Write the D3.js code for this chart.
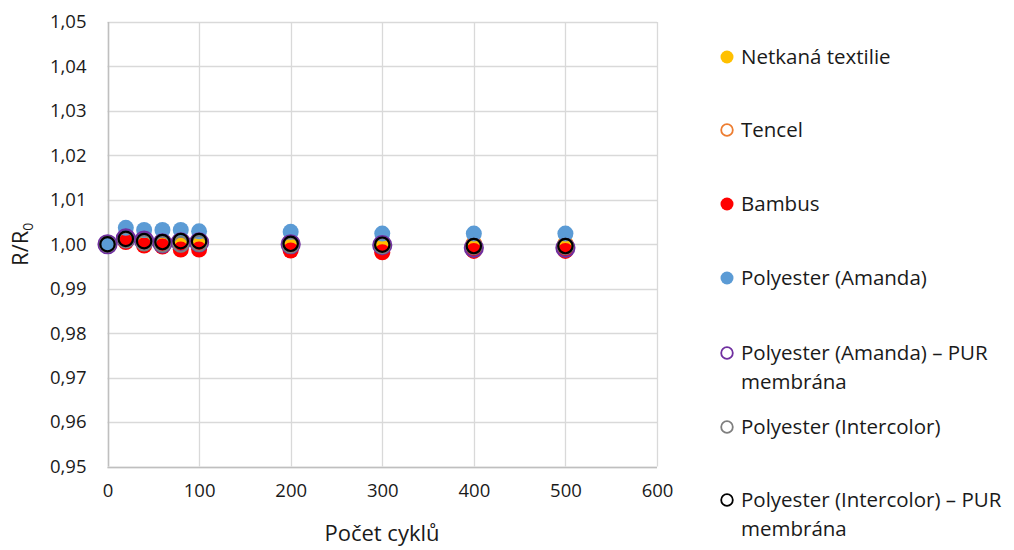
<!DOCTYPE html>
<html>
<head>
<meta charset="utf-8">
<script src="https://cdn.jsdelivr.net/npm/d3@7/dist/d3.min.js"></script>
<style>
  html, body { margin: 0; padding: 0; background: #fff; }
  svg text { font-family: "Open Sans", Carlito, Calibri, sans-serif; fill: #1a1a1a; }
</style>
</head>
<body>
<svg id="chart" width="1014" height="550"></svg>
<script>
// Number of abrasion cycles
const cycles = [0, 20, 40, 60, 80, 100, 200, 300, 400, 500];

// Relative resistance R/R0 for each material
const netkana       = [1.0000, 1.0012, 1.0008, 1.0008, 1.0008, 1.0008, 1.0005, 1.0003, 1.0002, 1.0002];
const tencel        = [1.0000, 1.0010, 1.0005, 1.0005, 1.0005, 1.0005, 1.0003, 1.0000, 1.0000, 0.9998];
const bambus        = [1.0000, 1.0005, 0.9997, 0.9995, 0.9988, 0.9988, 0.9986, 0.9982, 0.9985, 0.9985];
const amanda        = [1.0000, 1.0037, 1.0032, 1.0032, 1.0032, 1.0029, 1.0028, 1.0024, 1.0024, 1.0024];
const amandaPUR     = [1.0000, 1.0013, 1.0008, 1.0002, 1.0004, 1.0004, 1.0000, 0.9998, 0.9992, 0.9992];
const intercolor    = [1.0000, 1.0010, 1.0003, 1.0000, 1.0000, 1.0002, 0.9998, 0.9997, 0.9995, 0.9995];
const intercolorPUR = [1.0000, 1.0012, 1.0007, 1.0005, 1.0007, 1.0007, 1.0001, 0.9999, 0.9996, 0.9996];

const seriesNames = [
  "Netkaná textilie",
  "Tencel",
  "Bambus",
  "Polyester (Amanda)",
  "Polyester (Amanda) – PUR membrána",
  "Polyester (Intercolor)",
  "Polyester (Intercolor) – PUR membrána"
];
const seriesValues = [netkana, tencel, bambus, amanda, amandaPUR, intercolor, intercolorPUR];

const xTicks = [0, 100, 200, 300, 400, 500, 600];
const yTicks = [0.95, 0.96, 0.97, 0.98, 0.99, 1.00, 1.01, 1.02, 1.03, 1.04, 1.05];

// Marker styles: filled dots or hollow rings
const styles = [
  { fill: "#FFC000", stroke: "none",    r: 8 },
  { fill: "none",    stroke: "#ED7D31", r: 7.5 },
  { fill: "#FF0000", stroke: "none",    r: 8 },
  { fill: "#5B9BD5", stroke: "none",    r: 8 },
  { fill: "none",    stroke: "#7030A0", r: 9 },
  { fill: "none",    stroke: "#7F7F7F", r: 7.5 },
  { fill: "none",    stroke: "#000000", r: 7.2 }
];

const svg = d3.select("#chart");
const plot = { left: 107.5, right: 657, top: 22, bottom: 466.5 };

const x = d3.scaleLinear().domain([0, 600]).range([plot.left, plot.right]);
const y = d3.scaleLinear().domain([0.95, 1.05]).range([plot.bottom, plot.top]);
const fmt = v => d3.format(".2f")(v).replace(".", ",");

// Gridlines
const grid = svg.append("g");
grid.selectAll("line.h").data(yTicks).join("line")
  .attr("x1", plot.left).attr("x2", plot.right)
  .attr("y1", d => Math.round(y(d)) + 0.5).attr("y2", d => Math.round(y(d)) + 0.5)
  .attr("stroke", "#D9D9D9").attr("stroke-width", 1.3);
grid.selectAll("line.v").data(xTicks).join("line")
  .attr("x1", d => Math.round(x(d)) + 0.5).attr("x2", d => Math.round(x(d)) + 0.5)
  .attr("y1", plot.top).attr("y2", plot.bottom)
  .attr("stroke", "#D9D9D9").attr("stroke-width", 1.3);

// Axis lines
svg.append("line")
  .attr("x1", Math.round(plot.left) + 0.5).attr("x2", Math.round(plot.left) + 0.5)
  .attr("y1", plot.top).attr("y2", plot.bottom)
  .attr("stroke", "#BFBFBF").attr("stroke-width", 1.5);
svg.append("line")
  .attr("x1", plot.left).attr("x2", plot.right)
  .attr("y1", Math.round(plot.bottom) + 0.5).attr("y2", Math.round(plot.bottom) + 0.5)
  .attr("stroke", "#BFBFBF").attr("stroke-width", 1.5);

// Tick labels through d3 axes (domain and tick marks hidden)
const yAxis = svg.append("g")
  .attr("transform", `translate(${plot.left},0)`)
  .call(d3.axisLeft(y).tickValues(yTicks).tickFormat(fmt).tickSize(0).tickPadding(21));
yAxis.select(".domain").remove();
yAxis.selectAll("text").attr("font-size", 18.5).attr("fill", "#1a1a1a")
  .style("font-family", "'Open Sans', Carlito, Calibri, sans-serif");

const xAxis = svg.append("g")
  .attr("transform", `translate(0,${plot.bottom})`)
  .call(d3.axisBottom(x).tickValues(xTicks).tickFormat(d3.format("d")).tickSize(0).tickPadding(17));
xAxis.select(".domain").remove();
xAxis.selectAll("text").attr("font-size", 18.5).attr("fill", "#1a1a1a")
  .style("font-family", "'Open Sans', Carlito, Calibri, sans-serif");

// Axis titles
svg.append("text")
  .attr("x", 382).attr("y", 541)
  .attr("text-anchor", "middle").attr("font-size", 22)
  .text("Počet cyklů");

const yt = svg.append("text")
  .attr("transform", `translate(28,${y(1.0)}) rotate(-90)`)
  .attr("text-anchor", "middle").attr("font-size", 22);
yt.append("tspan").text("R/R");
yt.append("tspan").attr("font-size", 14).attr("dy", 5).text("0");

// Data markers, series drawn in legend order
seriesValues.forEach((vals, i) => {
  const st = styles[i];
  svg.append("g").selectAll("circle")
    .data(cycles.map((c, j) => ({ c, v: vals[j] })))
    .join("circle")
    .attr("cx", d => x(d.c)).attr("cy", d => y(d.v))
    .attr("r", st.r)
    .attr("fill", st.fill)
    .attr("stroke", st.stroke)
    .attr("stroke-width", st.fill === "none" ? 2.2 : 0);
});

// Legend
const legendRows = [57, 130, 204, 278, 353, 427, 500];
const legend = svg.append("g");
seriesNames.forEach((name, i) => {
  const st = styles[i];
  const g = legend.append("g").attr("transform", `translate(727,${legendRows[i]})`);
  g.append("circle").attr("r", st.fill === "none" ? 5.8 : 6.5)
    .attr("fill", st.fill).attr("stroke", st.stroke)
    .attr("stroke-width", st.fill === "none" ? 1.8 : 0);
  const parts = name.includes(" – PUR membrána")
    ? [name.replace(" membrána", ""), "membrána"] : [name];
  parts.forEach((p, k) => {
    g.append("text").attr("x", 14).attr("y", k * 29).attr("dy", "0.35em")
      .attr("font-size", 20.5).text(p);
  });
});
</script>
</body>
</html>
